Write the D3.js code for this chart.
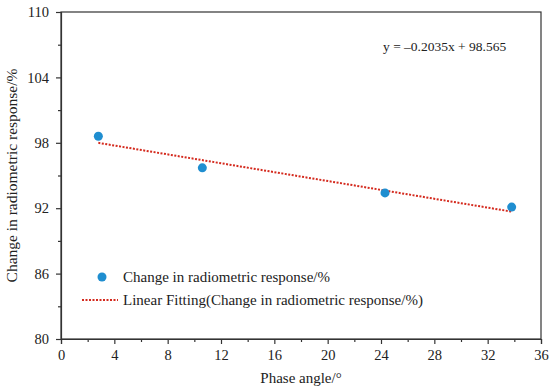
<!DOCTYPE html>
<html>
<head>
<meta charset="utf-8">
<script src="https://cdn.jsdelivr.net/npm/d3@7"></script>
<style>
  body { margin: 0; background: #fff; }
  svg { display: block; }
  text { font-family: "Liberation Serif", "DejaVu Serif", serif; fill: #222; }
</style>
</head>
<body>
<div id="chart"></div>
<script>
// phase angle (deg) and change in radiometric response (%)
const phaseAngles = [2.8, 10.6, 24.3, 33.8];
const responses = [98.6, 95.7, 93.4, 92.1];
const fitSlope = -0.2035;
const fitIntercept = 98.565;
const xTicks = [0, 4, 8, 12, 16, 20, 24, 28, 32, 36];
const yTicks = [80, 86, 92, 98, 104, 110];

const width = 550, height = 391;
const margin = { top: 12, right: 9, bottom: 52, left: 61 };

const svg = d3.select('#chart').append('svg')
    .attr('width', width)
    .attr('height', height);

const x = d3.scaleLinear().domain([0, 36]).range([margin.left, width - margin.right]);
const y = d3.scaleLinear().domain([80, 110]).range([height - margin.bottom, margin.top]);

// frame
svg.append('rect')
    .attr('x', x(0))
    .attr('y', y(110))
    .attr('width', x(36) - x(0))
    .attr('height', y(80) - y(110))
    .attr('fill', 'none')
    .attr('stroke', '#333')
    .attr('stroke-width', 1.2);

// minor ticks
const xMinor = d3.range(2, 36, 4);
const yMinor = d3.range(83, 110, 6);

svg.append('g')
    .attr('transform', `translate(0,${y(80)})`)
    .call(d3.axisBottom(x).tickValues(xTicks).tickFormat(d3.format('d')).tickSize(5).tickPadding(6));
svg.append('g')
    .attr('transform', `translate(0,${y(80)})`)
    .call(d3.axisBottom(x).tickValues(xMinor).tickFormat('').tickSize(3))
    .select('.domain').remove();

svg.append('g')
    .attr('transform', `translate(${x(0)},0)`)
    .call(d3.axisLeft(y).tickValues(yTicks).tickFormat(d3.format('d')).tickSize(5).tickPadding(7));
svg.append('g')
    .attr('transform', `translate(${x(0)},0)`)
    .call(d3.axisLeft(y).tickValues(yMinor).tickFormat('').tickSize(3))
    .select('.domain').remove();

svg.selectAll('.domain').attr('stroke', '#333').attr('stroke-width', 1.2);
svg.selectAll('.tick line').attr('stroke', '#333').attr('stroke-width', 1.2);
svg.selectAll('.tick text')
    .style('font-family', '"Liberation Serif", serif')
    .style('font-size', '14.5px')
    .attr('fill', '#222');

// fitted line
const x0 = d3.min(phaseAngles), x1 = d3.max(phaseAngles);
svg.append('line')
    .attr('x1', x(x0))
    .attr('y1', y(fitSlope * x0 + fitIntercept))
    .attr('x2', x(x1))
    .attr('y2', y(fitSlope * x1 + fitIntercept))
    .attr('stroke', '#d42a1e')
    .attr('stroke-width', 2)
    .attr('stroke-dasharray', '2,1.5');

// points
svg.selectAll('circle.pt')
    .data(phaseAngles.map((d, i) => [d, responses[i]]))
    .enter().append('circle')
    .attr('class', 'pt')
    .attr('cx', d => x(d[0]))
    .attr('cy', d => y(d[1]))
    .attr('r', 4.5)
    .attr('fill', '#1f8ed0');

// equation
svg.append('text')
    .attr('x', 383)
    .attr('y', 51)
    .style('font-size', '13.5px')
    .text('y = \u20130.2035x + 98.565');

// legend
svg.append('circle')
    .attr('cx', 102).attr('cy', 277).attr('r', 4.5)
    .attr('fill', '#1f8ed0');
svg.append('text')
    .attr('x', 123).attr('y', 282)
    .style('font-size', '15px')
    .text('Change in radiometric response/%');
svg.append('line')
    .attr('x1', 82).attr('x2', 118)
    .attr('y1', 300).attr('y2', 300)
    .attr('stroke', '#d42a1e')
    .attr('stroke-width', 2)
    .attr('stroke-dasharray', '2,1.5');
svg.append('text')
    .attr('x', 123).attr('y', 305)
    .style('font-size', '15px')
    .text('Linear Fitting(Change in radiometric response/%)');

// axis titles
svg.append('text')
    .attr('x', (x(0) + x(36)) / 2)
    .attr('y', 383)
    .attr('text-anchor', 'middle')
    .style('font-size', '15px')
    .text('Phase angle/\u00b0');

svg.append('text')
    .attr('transform', `translate(17,${(y(80) + y(110)) / 2}) rotate(-90)`)
    .attr('text-anchor', 'middle')
    .style('font-size', '15.5px')
    .text('Change in radiometric response/%');
</script>
</body>
</html>
